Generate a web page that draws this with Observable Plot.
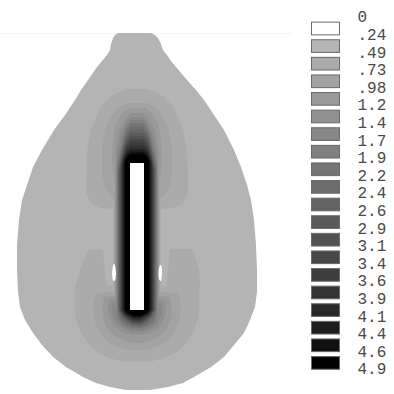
<!DOCTYPE html>
<html><head><meta charset="utf-8">
<script src="https://cdn.jsdelivr.net/npm/d3@7"></script>
<script src="https://cdn.jsdelivr.net/npm/@observablehq/plot@0.6"></script>
<style>
html,body{margin:0;padding:0;background:#fff;}
#wrap{position:relative;width:394px;height:394px;overflow:hidden;}
#main{position:absolute;left:0;top:0;}
#legend{position:absolute;left:300px;top:0;}
</style></head><body><div id="wrap"><div id="main"></div><div id="legend"></div></div>
<script>
// legend labels (level boundaries) and band colours
const levelLabels = ["0",".24",".49",".73",".98","1.2","1.4","1.7","1.9","2.2","2.4","2.6","2.9","3.1","3.4","3.6","3.9","4.1","4.4","4.6","4.9"];
const levelGrays = ["#ffffff","#b4b4b4","#ababab","#a3a3a3","#9a9a9a","#919191","#888888","#7f7f7f","#757575","#6c6c6c",
                    "#636363","#5a5a5a","#515151","#474747","#3d3d3d","#333333","#292929","#1d1d1d","#101010","#000000"];

// centre line of the slot (picture units)
const slotAxis = 137;

// outer boundary of the body: [y, xLeft, xRight], band 1
const outline = [
  [33,118,151],[35,115,155],[38,113,158],[44,111,161],[50,110,163],[55,107,167],[61,102,171],[67,97,176],
  [80,88,187],[90,81,196],[100,75,204],[115,65,214],[130,54,224],[150,42,234],[167,33,241],[185,27,247],
  [200,22,251],[220,19,254],[245,17,256],[270,17,257],[292,18,257],[307,20,255],[320,25,250],[333,33,244],
  [345,42,234],[357,53,224],[367,66,211],[377,83,194],[383,96,183],[387,110,168],[390,126,150]
];

// legs of the lower band-2 horseshoe: [y, xLeft, xRight]
const lowerLegLeft  = [[250,88,103],[260,84,104],[270,80,105],[280,77,106],[289,75,108]];
const lowerLegRight = [[249,170,192],[260,169,196],[270,168,199],[280,167,200],[289,165,200]];

// bands around the slot: [band, [[y, half width], ...]]
const bands = [
  [2,  [[89,10],[92,18],[97,27],[105,35],[115,40],[130,46],[150,50],[175,51],[192,51],[200,48],[205,44],[208,36],[209,24],[286,24],[287,62],[300,62],[315,62],[325,59],[335,55],[345,48],[353,38],[358,28],[362,12]]],
  [3,  [[103,10],[108,20],[118,27],[130,32],[150,35],[175,35],[188,32],[195,27],[199,23],[292,23],[293,40],[300,43],[312,44],[325,41],[335,36],[342,29],[347,20],[350,8]]],
  [4,  [[108,8],[113,15],[123,21],[140,24],[160,25],[172,24],[180,22.2],[296,22.2],[297,33],[310,35],[322,33],[331,28],[337,21],[341,12],[343,4]]],
  [5,  [[113,6],[118,12],[128,17],[145,21],[160,21.5],[299,21.5],[300,28],[312,29],[322,26],[329,20],[333,13],[335,5]]],
  [6,  [[117,6],[123,11],[135,16],[150,19.5],[163,20.8],[302,20.8],[303,25],[315,25],[324,20],[329,13],[332,5]]],
  [7,  [[120,6],[127,11],[140,15.5],[155,18.5],[165,20.1],[306,20.1],[314,21],[322,18],[327,12],[330,5]]],
  [8,  [[123,6],[131,11],[145,15],[158,18],[167,19.5],[309,19.5],[315,19],[322,16],[326,10],[328,4]]],
  [9,  [[127,6],[134,11],[148,15],[160,17.5],[168,18.9],[310,18.9],[318,16],[323,11],[326,6],[327,2]]],
  [10, [[130,6],[137,11],[150,14.5],[161,17],[169,18.3],[310,18.3],[317,15],[322,10],[325,4]]],
  [11, [[133,6],[140,11],[152,14.5],[162,16.5],[170,17.7],[310,17.7],[317,14],[321,9],[324,4]]],
  [12, [[136,6],[143,11],[154,14],[163,16],[170,17.1],[310,17.1],[316,13.5],[320,9],[323,4]]],
  [13, [[139,6],[145,11],[155,14],[164,15.8],[170,16.5],[310,16.5],[316,13],[320,8],[322,3]]],
  [14, [[142,6],[147,10.5],[156,13.5],[165,15.5],[170,15.9],[310,15.9],[315,12.5],[319,8],[321,3]]],
  [15, [[145,6],[149,10],[157,13.5],[165,15.2],[310,15.2],[315,12],[318,7],[320,3]]],
  [16, [[148,6],[151,10],[158,13],[165,14.5],[310,14.5],[314,11.5],[317,7],[319,3]]],
  [17, [[150,6],[153,10],[159,12.5],[165,13.8],[310,13.8],[314,11],[316,7],[318,3]]],
  [18, [[152,6],[155,10],[160,12.5],[165,13],[310,13],[313,10.5],[315,7],[317,3]]],
  [19, [[154,6],[157,10],[161,12],[309,12],[313,9.5],[315,6],[316,2]]]
];

// the slot itself (band 0): [y, half width]
const slot = [[163,7],[310,7]];

// two small low-value spots beside the slot: [y, xLeft, xRight]
const spotLeft  = [[264,113.5,114.5],[268,112.5,115.5],[274,112,116],[279,112.5,115.5],[281,113.5,114.5]];
const spotRight = [[265,160,161],[268,159,162],[274,158.5,162],[279,159,161.5],[281,160,161]];

// ---- build region tables ----
const regions = [];
const fromEdges = (id, band, rows) => regions.push(rows.map(([y,x1,x2]) => ({id, band, y, x1, x2})));
const fromHalf  = (id, band, rows) => regions.push(rows.map(([y,h]) => ({id, band, y, x1: slotAxis - h, x2: slotAxis + h})));

fromEdges("outline", 1, outline);
fromEdges("legL", 2, lowerLegLeft);
fromEdges("legR", 2, lowerLegRight);
bands.forEach(([b, rows]) => fromHalf("band" + b, b, rows));
fromHalf("slot", 0, slot);
fromEdges("spotL", 0, spotLeft);
fromEdges("spotR", 0, spotRight);

const colorScale = {type: "ordinal", domain: d3.range(levelGrays.length), range: levelGrays};

const main = Plot.plot({
  width: 300, height: 394,
  margin: 0,
  x: {domain: [0, 300], range: [0, 300], axis: null},
  y: {domain: [0, 394], range: [0, 394], axis: null},
  color: colorScale,
  marks: [
    Plot.ruleY([33], {x1: 0, x2: 292, stroke: "#f5f5f5", strokeWidth: 1}),
    ...regions.map(rows => Plot.areaX(rows, {y: "y", x1: "x1", x2: "x2", fill: "band", curve: "linear"}))
  ]
});
document.getElementById("main").appendChild(main);

// ---- legend ----
const swatches = levelGrays.map((g, i) => ({i}));
const legend = Plot.plot({
  width: 94, height: 394,
  margin: 0,
  x: {domain: [0, 94], range: [0, 94], axis: null},
  y: {domain: [0, 20], range: [16.7, 368.7], axis: null},
  color: colorScale,
  marks: [
    Plot.rect(swatches, {x1: () => 11.5, x2: () => 39.5, y1: d => d.i + 0.31, y2: d => d.i + 1.03, fill: "i", stroke: "#6a6a6a", strokeWidth: 1}),
    Plot.text(levelLabels, {x: () => 57, y: (d, i) => i, text: d => d, textAnchor: "start",
      fontFamily: "'Courier New', 'Liberation Mono', monospace", fontSize: 16, fill: "#4a4a4a"})
  ]
});
document.getElementById("legend").appendChild(legend);
</script>
</body></html>
